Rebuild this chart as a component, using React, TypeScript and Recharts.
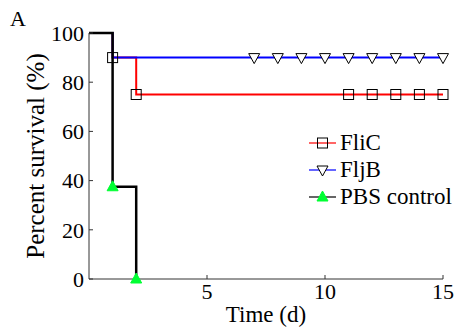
import React from "react"
import { LineChart, Line, XAxis, YAxis } from "recharts"

// days 0..15, Kaplan-Meier style step data
const days = [0, 1, 2, 3, 4, 5, 6, 7, 8, 9, 10, 11, 12, 13, 14, 15]
const fliC = [100, 90, 75, 75, 75, 75, 75, 75, 75, 75, 75, 75, 75, 75, 75, 75]
const fljB = [100, 90, 90, 90, 90, 90, 90, 90, 90, 90, 90, 90, 90, 90, 90, 90]
const pbs = [100, 37.5, 0, null, null, null, null, null, null, null, null, null, null, null, null, null]

const fliCMarks = [1, 2, 11, 12, 13, 14, 15]
const fljBMarks = [7, 8, 9, 10, 11, 12, 13, 14, 15]
const pbsMarks = [1, 2]

const xTicks = [5, 10, 15]
const yTicks = [0, 20, 40, 60, 80, 100]

const data = days.map((d, i) => ({ day: d, fliC: fliC[i], fljB: fljB[i], pbs: pbs[i] }))

const FONT = "'Liberation Serif', 'Times New Roman', serif"

const Square = ({ cx, cy }: { cx: number; cy: number }) => (
  <rect x={cx - 5} y={cy - 5} width={10} height={10} fill="none" stroke="#000" strokeWidth={1} />
)
const DownTri = ({ cx, cy }: { cx: number; cy: number }) => (
  <polygon points={`${cx - 5.5},${cy - 4} ${cx + 5.5},${cy - 4} ${cx},${cy + 6}`} fill="#fff" stroke="#000" strokeWidth={1} />
)
const UpTri = ({ cx, cy }: { cx: number; cy: number }) => (
  <polygon points={`${cx - 5.5},${cy + 4} ${cx + 5.5},${cy + 4} ${cx},${cy - 6}`} fill="#00ff33" stroke="#00ff33" strokeWidth={1} />
)

function makeDot(marks: number[], Shape: any) {
  return (props: any) => {
    const { cx, cy, payload, index } = props
    if (cx == null || cy == null || !marks.includes(payload.day)) return <g key={index} />
    return <Shape key={index} cx={cx} cy={cy} />
  }
}

const legendItems = [
  { name: "FliC", color: "#ff0000", Shape: Square },
  { name: "FljB", color: "#0000ff", Shape: DownTri },
  { name: "PBS control", color: "#000000", Shape: UpTri },
]

function SurvivalLegend() {
  return (
    <div style={{ position: "absolute", left: 309, top: 129, fontFamily: FONT, fontSize: 23, color: "#000" }}>
      {legendItems.map((it) => (
        <div key={it.name} style={{ display: "flex", alignItems: "center", height: 27 }}>
          <svg width={30} height={16} style={{ marginRight: 1 }}>
            <line x1={0} y1={8} x2={27} y2={8} stroke={it.color} strokeWidth={1.2} />
            <it.Shape cx={13.5} cy={8} />
          </svg>
          <span>{it.name}</span>
        </div>
      ))}
    </div>
  )
}

export default function App() {
  return (
    <div style={{ position: "absolute", left: 0, top: 0, width: 458, height: 330, background: "#fff" }}>
      <div style={{ position: "absolute", left: 10, top: 6, fontFamily: FONT, fontSize: 22 }}>A</div>
      <LineChart width={458} height={330} data={data} margin={{ top: 33, right: 15, bottom: 0, left: 0 }}>
        <XAxis
          dataKey="day"
          type="number"
          domain={[0, 15]}
          ticks={xTicks}
          tickSize={-4}
          tickMargin={8}
          stroke="#333"
          height={51}
          tick={{ fill: "#000", fontFamily: FONT, fontSize: 22 }}
          label={{ value: "Time (d)", position: "insideBottom", offset: 8, fill: "#000", fontFamily: FONT, fontSize: 23 }}
        />
        <YAxis
          type="number"
          domain={[0, 100]}
          ticks={yTicks}
          tickSize={-4}
          tickMargin={9}
          stroke="#333"
          width={89}
          tick={{ fill: "#000", fontFamily: FONT, fontSize: 22 }}
          label={{ value: "Percent survival (%)", angle: -90, position: "center", dx: -9, fill: "#000", fontFamily: FONT, fontSize: 25 }}
        />
        <Line type="stepAfter" dataKey="fliC" stroke="#ff0000" strokeWidth={2} dot={makeDot(fliCMarks, Square)} isAnimationActive={false} />
        <Line type="stepAfter" dataKey="fljB" stroke="#0000ff" strokeWidth={2} dot={makeDot(fljBMarks, DownTri)} isAnimationActive={false} />
        <Line type="stepAfter" dataKey="pbs" stroke="#000000" strokeWidth={2.5} dot={makeDot(pbsMarks, UpTri)} isAnimationActive={false} />
      </LineChart>
      <SurvivalLegend />
    </div>
  )
}
